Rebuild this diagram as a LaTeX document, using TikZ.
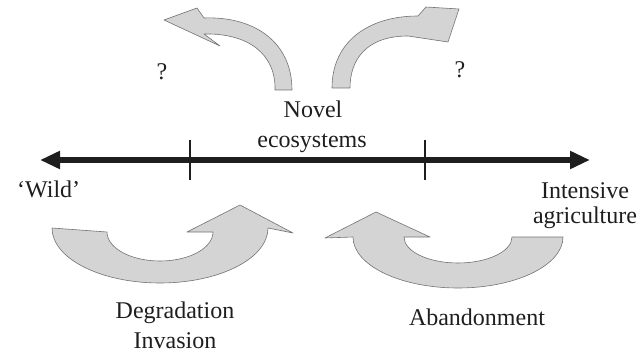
\documentclass[tikz,border=0pt]{standalone}
\usepackage{fontspec}
\setmainfont{Liberation Serif}
\usetikzlibrary{arrows.meta}
\definecolor{shapefill}{RGB}{212,212,212}
\definecolor{shapeline}{RGB}{115,115,115}
\definecolor{txt}{RGB}{30,30,30}
\tikzset{
  bigarrow/.style={fill=shapefill, draw=shapeline, line width=0.6pt, line join=round},
  lbl/.style={text=txt, font=\fontsize{24}{29}\selectfont, inner sep=0pt, anchor=base},
  tick/.style={line width=2pt, draw=txt},
  axis/.style={line width=5.5pt, draw=txt, {Triangle[length=20pt,width=17pt]}-{Triangle[length=20pt,width=17pt]}}
}
\begin{document}
\begin{tikzpicture}[x=1pt,y=1pt,yscale=-1]
\useasboundingbox (0,0) rectangle (641,353);
% main axis
\coordinate (wildend) at (40,160);
\coordinate (agrend) at (590,160);
\draw[axis] (wildend) -- (agrend);
\coordinate (t1a) at (190,140); \coordinate (t1b) at (190,180);
\coordinate (t2a) at (425,140); \coordinate (t2b) at (425,180);
\draw[tick] (t1a) -- (t1b);
\draw[tick] (t2a) -- (t2b);
% bottom left curved arrow (Degradation)
\path[bigarrow] (52,228) arc[start angle=180, end angle=0, x radius=108, y radius=55]
  -- (293,233) -- (240,205) -- (187,232) -- (213,232)
  arc[start angle=0, end angle=180, x radius=53, y radius=29] -- cycle;
% bottom right curved arrow (Abandonment)
\path[bigarrow] (563,237) arc[start angle=0, end angle=180, x radius=105, y radius=51]
  -- (325,238) -- (376,212) -- (430,237) -- (404,237)
  arc[start angle=180, end angle=0, x radius=54, y radius=26] -- cycle;
% top left curved arrow
\path[bigarrow] (164,20) -- (197,8) -- (204,18)
  .. controls (254,16) and (292,42) .. (292,90) -- (275,90)
  .. controls (276,54) and (248,33) .. (204,34) -- (220,46) -- cycle;
% top right curved arrow
\path[bigarrow] (459,9) -- (448,42) -- (408,36)
  .. controls (366,36) and (350,60) .. (350,88) -- (332,88)
  .. controls (332,42) and (368,16) .. (418,16) -- (426,7) -- cycle;
% labels
\node[lbl] (q1) at (162,80) {?};
\node[lbl] (q2) at (460,78) {?};
\node[lbl] (novel) at (313,118) {Novel};
\node[lbl] (eco) at (312,148) {ecosystems};
\node[lbl, anchor=base west] (wild) at (17,197) {`Wild'};
\node[lbl] (int) at (585,198) {Intensive};
\node[lbl] (agr) at (585,223) {agriculture};
\node[lbl] (deg) at (175,318) {Degradation};
\node[lbl] (inv) at (175,348) {Invasion};
\node[lbl] (aban) at (477,325) {Abandonment};
\end{tikzpicture}
\end{document}
